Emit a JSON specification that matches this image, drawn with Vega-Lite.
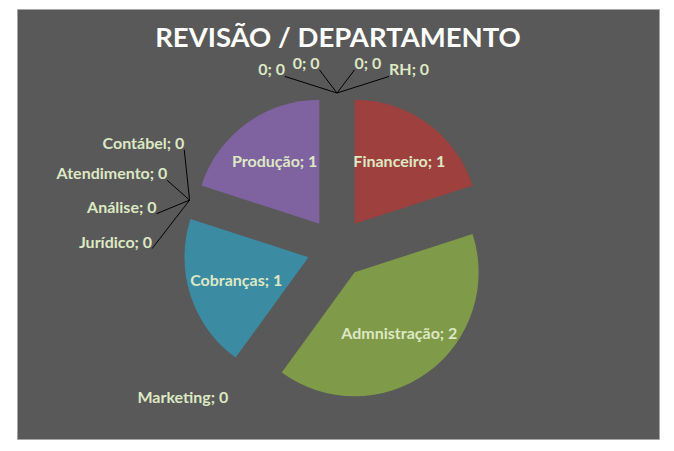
{
  "$schema": "https://vega.github.io/schema/vega-lite/v6.json",
  "width": 642,
  "height": 430,
  "autosize": "none",
  "padding": {"left": 17, "top": 9, "right": 15, "bottom": 12},
  "background": "white",
  "view": {"fill": "#595959", "stroke": "#A6A6A6", "strokeWidth": 1},
  "config": {"font": "Lato"},
  "title": {
    "text": "REVISÃO / DEPARTAMENTO",
    "font": "Lato",
    "fontSize": 27.5,
    "fontWeight": "bold",
    "color": "white",
    "anchor": "middle",
    "frame": "group",
    "offset": -43
  },
  "data": {
    "values": [
      {"ordem": 1, "departamento": "RH", "revisoes": 0},
      {"ordem": 2, "departamento": "Financeiro", "revisoes": 1},
      {"ordem": 3, "departamento": "Admnistração", "revisoes": 2},
      {"ordem": 4, "departamento": "Marketing", "revisoes": 0},
      {"ordem": 5, "departamento": "Cobranças", "revisoes": 1},
      {"ordem": 6, "departamento": "Jurídico", "revisoes": 0},
      {"ordem": 7, "departamento": "Análise", "revisoes": 0},
      {"ordem": 8, "departamento": "Atendimento", "revisoes": 0},
      {"ordem": 9, "departamento": "Contábel", "revisoes": 0},
      {"ordem": 10, "departamento": "Produção", "revisoes": 1},
      {"ordem": 11, "departamento": "0", "revisoes": 0},
      {"ordem": 12, "departamento": "0", "revisoes": 0},
      {"ordem": 13, "departamento": "0", "revisoes": 0}
    ]
  },
  "transform": [
    {"window": [{"op": "sum", "field": "revisoes", "as": "acum"}], "sort": [{"field": "ordem", "order": "ascending"}], "frame": [null, 0]},
    {"joinaggregate": [{"op": "sum", "field": "revisoes", "as": "total"}]},
    {"calculate": "(datum.acum - datum.revisoes) / datum.total", "as": "ini"},
    {"calculate": "datum.acum / datum.total", "as": "fim"},
    {"calculate": "PI * (datum.ini + datum.fim)", "as": "meio"},
    {"calculate": "30 * sin(datum.meio)", "as": "cx"},
    {"calculate": "30 * cos(datum.meio)", "as": "cy"},
    {"calculate": "datum.revisoes > 0 ? 'f' + datum.ordem : 'z' + (round(datum.fim * 1000) % 1000)", "as": "grupo"},
    {"window": [{"op": "row_number", "as": "pos"}, {"op": "count", "as": "n"}], "groupby": ["grupo"], "sort": [{"field": "fim", "order": "descending"}, {"field": "ordem", "order": "ascending"}], "frame": [null, null]},
    {"calculate": "datum.meio + (datum.pos - (datum.n + 1) / 2) * 0.19", "as": "ang"},
    {"calculate": "datum.revisoes > 0 ? datum.cx + 76 * sin(datum.ang) : 185 * sin(datum.ang)", "as": "lx"},
    {"calculate": "datum.revisoes > 0 ? datum.cy + 76 * cos(datum.ang) : 185 * cos(datum.ang)", "as": "ly"},
    {"calculate": "datum.revisoes > 0 || abs(sin(datum.ang)) < 0.05 ? 'centro' : (sin(datum.ang) < 0 ? 'dir' : 'esq')", "as": "lado"},
    {"calculate": "155 * sin(datum.meio)", "as": "px"},
    {"calculate": "155 * cos(datum.meio)", "as": "py"},
    {"calculate": "datum.ly - 6", "as": "ly0"},
    {"calculate": "datum.departamento + '; ' + datum.revisoes", "as": "rotulo"}
  ],
  "layer": [
    {
      "transform": [{"filter": "datum.revisoes > 0"}],
      "mark": {"type": "arc", "outerRadius": 124},
      "encoding": {
        "x": {"field": "cx", "type": "quantitative", "scale": {"domain": [-320, 322], "nice": false, "zero": false}, "axis": null},
        "y": {"field": "cy", "type": "quantitative", "scale": {"domain": [-191, 239], "nice": false, "zero": false}, "axis": null},
        "theta": {"field": "ini", "type": "quantitative", "stack": null, "scale": {"domain": [0, 1], "range": [0, 6.283185307179586]}},
        "theta2": {"field": "fim"},
        "color": {
          "field": "departamento",
          "type": "nominal",
          "scale": {"domain": ["Financeiro", "Admnistração", "Cobranças", "Produção"], "range": ["#9E413E", "#7F9A48", "#3B8BA3", "#7F63A0"]},
          "legend": null
        }
      }
    },
    {
      "transform": [{"filter": "datum.revisoes == 0 && datum.n > 1"}],
      "mark": {"type": "rule", "color": "black", "strokeWidth": 1},
      "encoding": {
        "x": {"field": "lx", "type": "quantitative", "scale": {"domain": [-320, 322], "nice": false, "zero": false}, "axis": null},
        "y": {"field": "ly0", "type": "quantitative", "scale": {"domain": [-191, 239], "nice": false, "zero": false}, "axis": null},
        "x2": {"field": "px"},
        "y2": {"field": "py"}
      }
    },
    {
      "transform": [{"filter": "datum.lado == 'centro'"}],
      "mark": {"type": "text", "align": "center", "baseline": "middle", "font": "Lato", "fontSize": 16, "fontWeight": "bold", "color": "#DDE8C4"},
      "encoding": {
        "x": {"field": "lx", "type": "quantitative", "scale": {"domain": [-320, 322], "nice": false, "zero": false}, "axis": null},
        "y": {"field": "ly", "type": "quantitative", "scale": {"domain": [-191, 239], "nice": false, "zero": false}, "axis": null},
        "text": {"field": "rotulo"}
      }
    },
    {
      "transform": [{"filter": "datum.lado == 'dir'"}],
      "mark": {"type": "text", "align": "right", "baseline": "middle", "font": "Lato", "fontSize": 16, "fontWeight": "bold", "color": "#DDE8C4"},
      "encoding": {
        "x": {"field": "lx", "type": "quantitative", "scale": {"domain": [-320, 322], "nice": false, "zero": false}, "axis": null},
        "y": {"field": "ly", "type": "quantitative", "scale": {"domain": [-191, 239], "nice": false, "zero": false}, "axis": null},
        "text": {"field": "rotulo"}
      }
    },
    {
      "transform": [{"filter": "datum.lado == 'esq'"}],
      "mark": {"type": "text", "align": "left", "baseline": "middle", "font": "Lato", "fontSize": 16, "fontWeight": "bold", "color": "#DDE8C4"},
      "encoding": {
        "x": {"field": "lx", "type": "quantitative", "scale": {"domain": [-320, 322], "nice": false, "zero": false}, "axis": null},
        "y": {"field": "ly", "type": "quantitative", "scale": {"domain": [-191, 239], "nice": false, "zero": false}, "axis": null},
        "text": {"field": "rotulo"}
      }
    }
  ]
}
